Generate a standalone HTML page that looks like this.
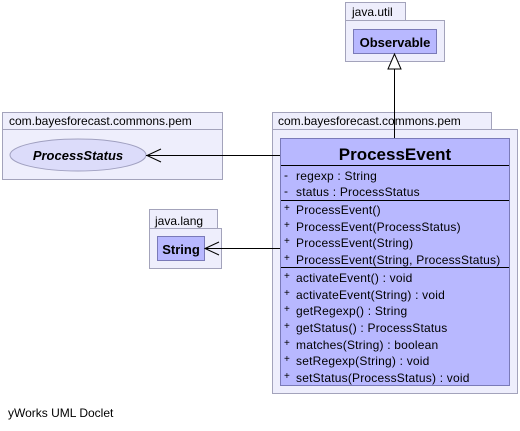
<!DOCTYPE html>
<html><head><style>body{margin:0;background:#fff}svg{display:block}</style></head><body>
<svg width="520" height="431" xmlns="http://www.w3.org/2000/svg" font-family="Liberation Sans, sans-serif">
<g fill="#eeeefc" stroke="#a3a3bb" stroke-width="1">
<rect x="345.5" y="2.5" width="60" height="18"/><rect x="345.5" y="20.5" width="99" height="41"/>
<rect x="2.5" y="112.5" width="220" height="17"/><rect x="2.5" y="129.5" width="220" height="50"/>
<rect x="272.5" y="112.5" width="219" height="17"/><rect x="272.5" y="129.5" width="245" height="264"/>
<rect x="149.5" y="209.5" width="68" height="19"/><rect x="149.5" y="228.5" width="72" height="40"/>
</g>
<g font-size="12" fill="#000">
<text x="352" y="16">java.util</text>
<text x="9" y="125">com.bayesforecast.commons.pem</text>
<text x="278" y="125">com.bayesforecast.commons.pem</text>
<text x="155" y="225">java.lang</text>
</g>
<g fill="#b8b8ff" stroke="#7a7ab8">
<rect x="353.5" y="29.5" width="83" height="24"/>
<rect x="157.5" y="236.5" width="47" height="24"/>
<rect x="280.5" y="138.5" width="229" height="247"/>
</g>
<ellipse cx="78" cy="155" rx="68" ry="16" fill="#dcdcfa" stroke="#a0a0c0"/>
<text x="395" y="47" font-size="13" font-weight="bold" text-anchor="middle">Observable</text>
<text x="181" y="254" font-size="13" font-weight="bold" text-anchor="middle">String</text>
<text x="78" y="160" font-size="13" font-weight="bold" font-style="italic" text-anchor="middle">ProcessStatus</text>
<text x="395" y="160" font-size="17" font-weight="bold" text-anchor="middle">ProcessEvent</text>
<g stroke="#000"><line x1="281" y1="165.5" x2="509" y2="165.5"/><line x1="281" y1="200.5" x2="509" y2="200.5"/><line x1="281" y1="267.5" x2="509" y2="267.5"/>
<line x1="394.5" y1="69" x2="394.5" y2="138"/>
<line x1="146" y1="155.5" x2="280" y2="155.5"/>
<polyline points="161,149 147,155.5 161,162" fill="none"/>
<line x1="205" y1="248.5" x2="280" y2="248.5"/>
<polyline points="219,242 205,248.5 219,255" fill="none"/>
<polygon points="394.5,54 388,69 401,69" fill="#fff"/>
</g>
<g font-size="12" letter-spacing="0.2">
<text x="284" y="179">-</text><text x="296" y="180">regexp : String</text>
<text x="284" y="195">-</text><text x="296" y="196">status : ProcessStatus</text>
<g font-size="10"><text x="284" y="211">+</text><text x="284" y="228">+</text><text x="284" y="244">+</text><text x="284" y="261">+</text>
<text x="284" y="279">+</text><text x="284" y="296">+</text><text x="284" y="312">+</text><text x="284" y="329">+</text><text x="284" y="346">+</text><text x="284" y="362">+</text><text x="284" y="379">+</text></g>
<text x="296" y="214">ProcessEvent()</text>
<text x="296" y="231">ProcessEvent(ProcessStatus)</text>
<text x="296" y="247">ProcessEvent(String)</text>
<text x="296" y="264">ProcessEvent(String, ProcessStatus)</text>
<text x="296" y="282">activateEvent() : void</text>
<text x="296" y="299">activateEvent(String) : void</text>
<text x="296" y="315">getRegexp() : String</text>
<text x="296" y="332">getStatus() : ProcessStatus</text>
<text x="296" y="349">matches(String) : boolean</text>
<text x="296" y="365">setRegexp(String) : void</text>
<text x="296" y="382">setStatus(ProcessStatus) : void</text>
</g>
<text x="8" y="417" font-size="12">yWorks UML Doclet</text>
</svg>
</body></html>
